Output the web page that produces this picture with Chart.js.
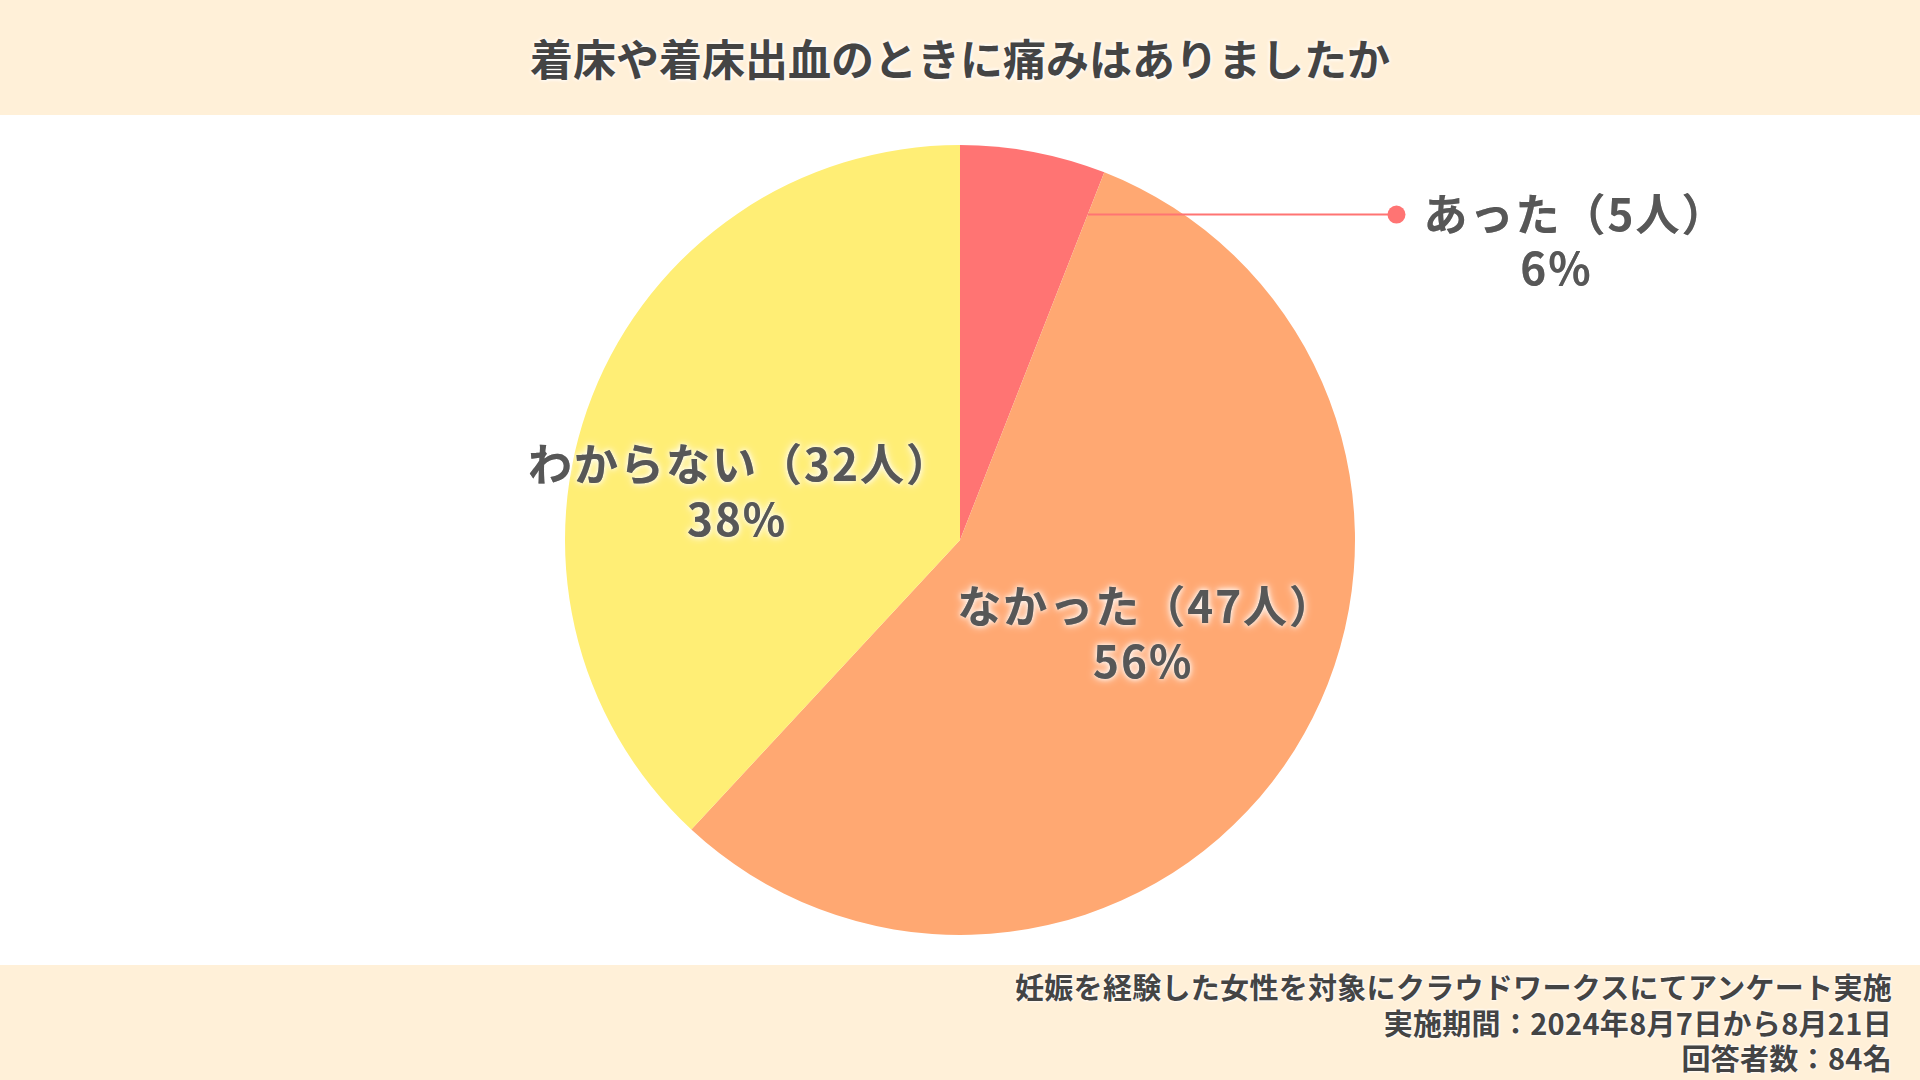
<!DOCTYPE html>
<html lang="ja">
<head>
<meta charset="utf-8">
<script src="https://cdn.jsdelivr.net/npm/chart.js@4.4.1/dist/chart.umd.min.js"></script>
<style>
  html, body { margin: 0; padding: 0; width: 1920px; height: 1080px; overflow: hidden; background: #ffffff; }
  body { position: relative; font-family: "Noto Sans CJK JP", "Noto Sans", sans-serif; }
  #header { position: absolute; left: 0; top: 0; width: 1920px; height: 115px; background: #FFF0D8; }
  #title { position: absolute; left: 0; top: 0; width: 1920px; height: 115px; line-height: 115px; text-align: center;
           font-size: 43px; font-weight: 700; color: #444444; text-shadow: 0 0 4px #ffffff, 0 0 4px #ffffff; }
  #footer { position: absolute; left: 0; top: 965px; width: 1920px; height: 115px; background: #FFF0D8; }
  #notes { position: absolute; right: 28px; top: 969px; text-align: right; font-size: 29px; font-weight: 700;
           line-height: 35.5px; color: #444444; letter-spacing: 0.3px; text-shadow: 0 0 3px #ffffff, 0 0 3px #ffffff; }
  #wrap { position: absolute; left: 0; top: 0; width: 1920px; height: 1080px; }
</style>
</head>
<body>
<div id="header"></div>
<div id="title"></div>
<div id="footer"></div>
<div id="notes"></div>
<div id="wrap"><canvas id="chart" width="1920" height="1080"></canvas></div>
<script>
// ---- data ----
const titleText = "着床や着床出血のときに痛みはありましたか";
const categories = ["あった", "なかった", "わからない"];
const counts = [5, 47, 32];
const percentLabels = ["6%", "56%", "38%"];
const sliceColors = ["#FF7473", "#FFA872", "#FFEE75"];
const footerLines = [
  "妊娠を経験した女性を対象にクラウドワークスにてアンケート実施",
  "実施期間：2024年8月7日から8月21日",
  "回答者数：84名"
];

document.getElementById("title").textContent = titleText;
document.getElementById("notes").innerHTML = footerLines.map(s => "<div>" + s + "</div>").join("");

const labelColor = "#575757";
const labelFont = '700 44px "Noto Sans CJK JP", sans-serif';
const labelSpacing = "2px";

// Label placement (style): for inner labels, angle offset (deg) from slice mid-angle and radius fraction
const innerPlacement = {
  1: { dAng: -4.3, frac: 0.51 },
  2: { dAng: -9.4, frac: 0.59 }
};

function setLabelFont(ctx) {
  ctx.font = labelFont;
  if ("letterSpacing" in ctx) ctx.letterSpacing = labelSpacing;
}

function drawGlowText(ctx, text, x, y) {
  ctx.save();
  setLabelFont(ctx);
  ctx.textAlign = "center";
  ctx.textBaseline = "middle";
  ctx.fillStyle = labelColor;
  ctx.shadowColor = "rgba(255,255,255,0.95)";
  ctx.shadowBlur = 10;
  ctx.fillText(text, x, y);
  ctx.shadowBlur = 5;
  ctx.fillText(text, x, y);
  ctx.restore();
}

const labelPlugin = {
  id: "pieLabels",
  afterDatasetsDraw(chart) {
    const ctx = chart.ctx;
    const meta = chart.getDatasetMeta(0);
    const lineGap = 55;
    meta.data.forEach((arc, i) => {
      const { x, y, startAngle, endAngle, outerRadius } = arc.getProps(["x", "y", "startAngle", "endAngle", "outerRadius"], true);
      const line1 = categories[i] + "（" + counts[i] + "人）";
      const line2 = percentLabels[i];
      if (innerPlacement[i]) {
        const p = innerPlacement[i];
        const a = (startAngle + endAngle) / 2 + p.dAng * Math.PI / 180;
        const lx = x + Math.cos(a) * outerRadius * p.frac + 5;
        const ly = y + Math.sin(a) * outerRadius * p.frac;
        drawGlowText(ctx, line1, lx + 3, ly - lineGap / 2);
        drawGlowText(ctx, line2, lx, ly + lineGap / 2);
      } else {
        // small slice: leader line from slice edge to a dot, label outside
        const ly = y - outerRadius * 0.824;
        const theta = endAngle + Math.PI / 2; // clockwise from top
        const sx = x + (y - ly) * Math.tan(theta);
        const dotX = x + outerRadius * 1.105;
        ctx.save();
        ctx.strokeStyle = sliceColors[i];
        ctx.lineWidth = 2;
        ctx.beginPath();
        ctx.moveTo(sx, ly);
        ctx.lineTo(dotX, ly);
        ctx.stroke();
        ctx.fillStyle = sliceColors[i];
        ctx.beginPath();
        ctx.arc(dotX, ly, 9, 0, Math.PI * 2);
        ctx.fill();
        setLabelFont(ctx);
        const w = ctx.measureText(line1).width;
        ctx.restore();
        const cxText = dotX + 27 + w / 2;
        drawGlowText(ctx, line1, cxText, ly);
        drawGlowText(ctx, line2, cxText - 19, ly + 54);
      }
    });
  }
};

new Chart(document.getElementById("chart"), {
  type: "pie",
  data: {
    labels: categories,
    datasets: [{
      data: counts,
      backgroundColor: sliceColors,
      borderWidth: 0,
      hoverOffset: 0
    }]
  },
  options: {
    responsive: false,
    animation: false,
    layout: { padding: { top: 145, bottom: 145, left: 0, right: 0 } },
    plugins: {
      legend: { display: false },
      tooltip: { enabled: false },
      title: { display: false }
    },
    events: []
  },
  plugins: [labelPlugin]
});
</script>
</body>
</html>
